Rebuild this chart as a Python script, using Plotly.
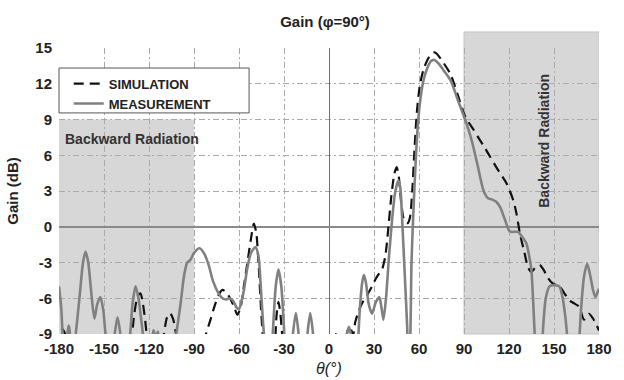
import plotly.graph_objects as go

# ---- data ----
theta_meas = [-180, -178.5, -176.5, -173.5, -171, -168, -166, -164, -162.3, -160.5, -158.5, -156.4,
              -154.5, -152.4, -150.5, -149, -147, -143.5, -141, -138.5, -136, -133, -131, -129, -127,
              -125, -123, -121, -118.5, -117, -115.5, -114, -112, -108, -104, -101.8, -99, -96.5,
              -94.5, -92.5, -90, -86.3, -83, -80, -77.5, -74, -71, -68.5, -66.5, -64, -61.5, -60,
              -57, -54.5, -52, -49, -47, -45.5, -44, -42.7, -41, -38, -37.5, -35.5, -33.7, -31.8,
              -30, -29, -26, -24.5, -22.1, -19.8, -17, -14.8, -12.5, -10.2, -8, 0, 10, 11.5, 13.3,
              15, 17, 19, 20.5, 22, 23.2, 24.5, 26.5, 28.7, 31, 33.5, 35, 36.3, 38, 40, 42, 44,
              46.2, 47.5, 49, 50.5, 52, 53, 54, 55, 56.5, 58, 59.4, 61, 63, 65.5, 68, 70.3, 73, 76,
              81, 86, 91, 95, 99, 103, 106, 108.5, 111.5, 114, 117, 120, 121.5, 126, 128.5, 131.6,
              133.5, 134.9, 136, 137.1, 138, 140, 142, 143, 144.5, 147, 150, 153.5, 155.5, 157.5,
              159, 160.5, 164, 166.5, 168, 170, 172.1, 174, 176, 177.6, 179, 180]
gain_meas = [-5.0, -6.8, -11, -8.3, -11, -8, -5.5, -3.0, -2.1, -3.0, -5.5, -7.7,
             -6.5, -5.9, -7.0, -9, -11, -9.5, -7.6, -9.5, -11, -9.5, -6.5, -5.0, -6.0,
             -8, -10, -11, -10, -8.7, -9.3, -8.8, -11, -12, -11, -9, -6.5, -4.0,
             -3.0, -2.8, -2.2, -1.8, -2.3, -3.3, -4.5, -5.5, -6.0, -6.1, -6.0, -6.2, -6.8, -6.9,
             -5.5, -3.5, -2.2, -1.7, -2.5, -5, -8, -10, -12, -10, -9, -5, -3.6, -5,
             -8.5, -10.5, -12, -9.5, -7.25, -9.5, -12, -9.5, -7.25, -9.5, -12, -12, -11, -9.3, -8.4,
             -9.3, -11, -10, -7, -4.8, -4.06, -4.6, -6.5, -7.3, -6.4, -5.9, -6.8, -7.8, -6, -2.5, 0.5, 2.8,
             3.9, 3.3, 0, -4, -8, -11, -10, -3, 2, 6, 8.8, 10.8, 12.3, 13.3, 13.9, 14.0, 13.7, 13.2,
             12.3, 10.6, 8.9, 7.3, 5.2, 3.05, 2.4, 2.3, 2.1, 1.66, 0.7, -0.3, -0.43, -0.43, -0.8, -1.4,
             -2.5, -3.6, -6, -9, -12, -12, -10, -8, -6, -5, -4.9, -5.0, -5.8, -7.5,
             -9.5, -12, -12, -10, -7, -4.2, -3.1, -4.0, -5.3, -5.9, -5.5, -5.2]

theta_sim = [-180, -178, -176.5, -175, -173, -135, -132, -130, -127.5, -125.7, -124, -122, -120.5,
             -118, -112, -110, -108, -106, -104, -102, -100, -88, -84, -82, -79, -76.4, -73.5, -71,
             -68.5, -66, -63.3, -61.1, -59, -57, -54.5, -52, -50.1, -48.5, -47, -45.5, -44, -42.5,
             -37, -36, -35, -33.7, -32.5, -31, -30, -10, 2, 4.6, 7, 10, 12.5, 14, 16, 17.5, 20, 23,
             26, 28.7, 31, 33, 35.3, 37.5, 39.4, 41.5, 43.5, 45.1, 46.5, 48, 49.5, 51, 52.5, 54,
             55.5, 57, 58.5, 60.5, 63, 66, 68.5, 70.3, 72, 75, 81, 86, 91, 96.6, 100, 104, 107.5,
             112, 118.5, 122.9, 125, 127.3, 130, 132.7, 134.9, 137, 140.4, 143, 146, 149.1, 153.5,
             156.5, 160, 163, 166.7, 170, 173.3, 176, 180]
gain_sim = [-10, -8.6, -8.8, -10, -12, -12, -10, -7.5, -5.8, -5.6, -6.5, -8.5, -11,
            -12, -11, -9, -7.6, -7.25, -7.7, -9, -11, -12, -10, -9, -7.8, -6.7, -5.7, -5.3,
            -5.5, -6, -6.7, -7.4, -6.8, -5.2, -3.1, -1, 0.27, -0.5, -3, -6.5, -9.5, -12,
            -12, -10, -7.5, -6.3, -7.2, -9.5, -12, -12, -11, -9, -11, -10, -8.7, -8.4, -9.1, -8, -7, -6.2,
            -5.6, -5.0, -4.4, -4.0, -3.6, -2.5, -0.3, 2.5, 4.4, 5.0, 4.2, 2.2, 0.8, 0.35, 0.3, 0.8,
            3, 6.5, 9.5, 11.8, 13.2, 14.1, 14.55, 14.64, 14.5, 14.0, 12.8, 11.0, 9.2, 8.1, 7.4, 6.6, 5.85,
            4.9, 3.6, 2.2, 1.1, -0.6, -2.0, -3.4, -3.8, -3.5, -3.2, -3.6, -4.3, -4.76, -5.0,
            -5.5, -6.15, -6.4, -6.7, -7.8, -7.3, -7.7, -8.7]

x_ticks = [-180, -150, -120, -90, -60, -30, 0, 30, 60, 90, 120, 150, 180]
y_ticks = [-9, -6, -3, 0, 3, 6, 9, 12, 15]

FONT = "Liberation Sans, Arial, sans-serif"
TXT = "#222222"
SHADE = "rgba(0,0,0,0.155)"

fig = go.Figure()
fig.add_trace(go.Scatter(x=theta_sim, y=gain_sim, mode="lines", name="SIMULATION",
                         line=dict(color="#111111", width=2.2, dash="10px,6px", shape="spline", smoothing=0.7)))
fig.add_trace(go.Scatter(x=theta_meas, y=gain_meas, mode="lines", name="MEASUREMENT",
                         line=dict(color="#808080", width=2.6, shape="spline", smoothing=0.7)))

# shaded backward-radiation regions (translucent so the grid shows through)
fig.add_shape(type="rect", xref="x", yref="y", x0=-180, x1=-90, y0=-9, y1=9,
              fillcolor=SHADE, line=dict(width=0), layer="below")
fig.add_shape(type="rect", xref="x", yref="paper", x0=90, x1=180, y0=0, y1=1.056,
              fillcolor=SHADE, line=dict(color="#c4c4c4", width=1), layer="below")

# legend box
fig.add_shape(type="rect", xref="paper", yref="paper", x0=0.0, x1=0.352, y0=0.773, y1=0.930,
              fillcolor="white", line=dict(color="#555555", width=1), layer="above")

fig.add_annotation(text="Backward Radiation", xref="x", yref="y", x=-177.4, y=7.4,
                   xanchor="left", yanchor="middle", showarrow=False,
                   font=dict(family=FONT, size=14, color="#333333", weight="bold"))
fig.add_annotation(text="Backward Radiation", xref="x", yref="y", x=143.2, y=7.2,
                   textangle=-90, xanchor="center", yanchor="middle", showarrow=False,
                   font=dict(family=FONT, size=14, color="#333333", weight="bold"))

# axis titles
fig.add_annotation(text="Gain (dB)", xref="paper", yref="paper", x=-48/548, y=0.5,
                   textangle=-90, xanchor="center", yanchor="middle", showarrow=False,
                   font=dict(family=FONT, size=15, color=TXT, weight="bold"))
fig.add_annotation(text="<i>θ(°)</i>", xref="paper", yref="paper", x=0.5, y=-34/286,
                   xanchor="center", yanchor="middle", showarrow=False,
                   font=dict(family=FONT, size=16, color=TXT))

grid = dict(showgrid=True, gridcolor="#a9a9a9", gridwidth=1, griddash="6px,3px,2px,3px",
            showline=False, ticks="", zeroline=True,
            tickfont=dict(family=FONT, size=15, color=TXT, weight="bold"))

fig.update_xaxes(range=[-180, 180], tickvals=x_ticks, ticktext=[str(v) for v in x_ticks],
                 zerolinecolor="#707070", zerolinewidth=1.2, ticklabelstandoff=4, **grid)
fig.update_yaxes(range=[-9, 15], tickvals=y_ticks, ticktext=[str(v) for v in y_ticks],
                 zerolinecolor="#8a8a8a", zerolinewidth=1.6, ticklabelstandoff=6, **grid)

fig.update_layout(
    width=624, height=380,
    margin=dict(l=59, r=17, t=48, b=46),
    paper_bgcolor="white", plot_bgcolor="white",
    title=dict(text="Gain (φ=90°)", x=325/624, xref="container",
               y=1 - 22/380, xanchor="center", yanchor="middle",
               font=dict(family=FONT, size=15, color=TXT, weight="bold")),
    showlegend=True,
    legend=dict(x=0.018, y=0.928, xanchor="left", yanchor="top",
                bgcolor="rgba(0,0,0,0)", borderwidth=0, tracegroupgap=0,
                font=dict(family=FONT, size=13, color=TXT, weight="bold")),
)

fig.write_html("out.html")
